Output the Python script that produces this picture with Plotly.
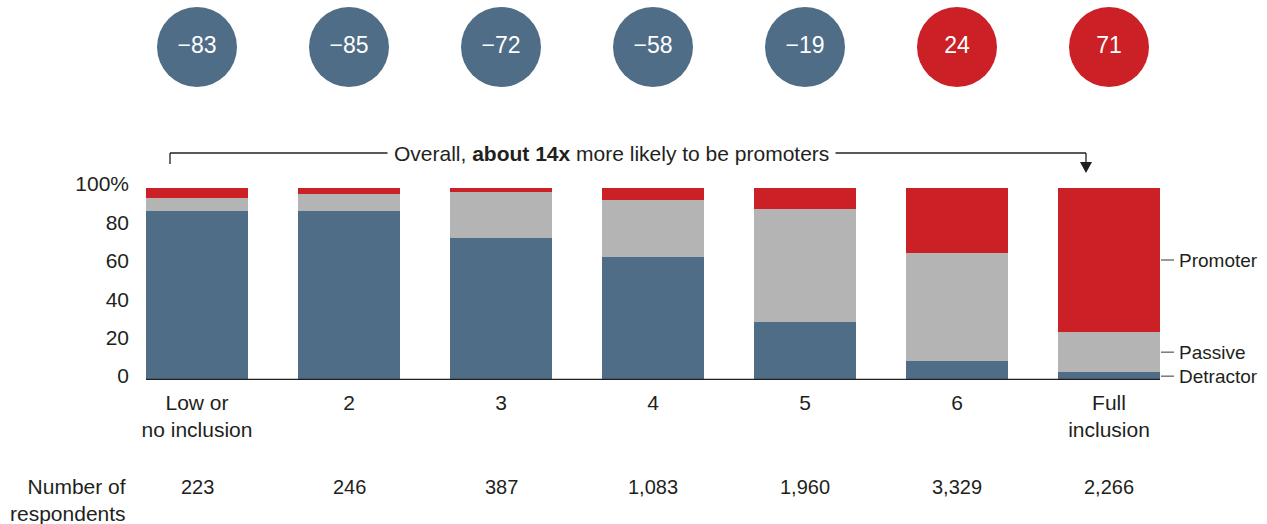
import plotly.graph_objects as go

# Inclusion level categories and stacked shares (% of respondents)
categories = ["Low or<br>no inclusion", "2", "3", "4", "5", "6", "Full<br>inclusion"]
detractor = [88, 88, 74, 64, 30, 10, 4]
passive = [7, 9, 24, 30, 59, 56, 21]
promoter = [5, 3, 2, 6, 11, 34, 75]
nps = [-83, -85, -72, -58, -19, 24, 71]
respondents = ["223", "246", "387", "1,083", "1,960", "3,329", "2,266"]
y_ticks = [0, 20, 40, 60, 80, 100]
y_tick_labels = ["0", "20", "40", "60", "80", "100%"]

W, H = 1267, 524
BLUE = "#4f6d86"
GREY = "#b4b4b4"
RED = "#cc2027"
INK = "#231f20"
FONT = "Liberation Sans, Arial, sans-serif"

def px(x):
    return x / W

def py(y):
    return 1 - y / H

x_idx = list(range(len(categories)))
pitch = 152.0
first_center = 197.0
bar_w = 102.0 / pitch
r0 = -first_center / pitch
r1 = r0 + W / pitch

fig = go.Figure()
for name, vals, col in [("Detractor", detractor, BLUE), ("Passive", passive, GREY), ("Promoter", promoter, RED)]:
    fig.add_trace(go.Bar(x=x_idx, y=vals, name=name, marker=dict(color=col, line=dict(width=0)),
                         width=bar_w, hoverinfo="skip"))

# NPS circles on their own strip above the bars
nps_text = [f"\u2212{abs(v)}" if v < 0 else f"{v}" for v in nps]
fig.add_trace(go.Scatter(
    x=x_idx, y=[0.5] * len(nps), yaxis="y2", mode="markers+text",
    marker=dict(size=80, color=[RED if v > 0 else BLUE for v in nps], line=dict(width=0)),
    text=nps_text, textposition="middle center",
    textfont=dict(color="white", size=23, family=FONT), hoverinfo="skip", cliponaxis=False))

shapes = []
annotations = []

# Baseline under the bars
shapes.append(dict(type="line", xref="x", yref="y", x0=-bar_w / 2, x1=len(categories) - 1 + bar_w / 2,
                   y0=0, y1=0, line=dict(color=INK, width=2.5), layer="above"))

# Bracket with arrow spanning the categories
by, lx, rx = 153, 170, 1086
line_style = dict(color=INK, width=1.3)
shapes.append(dict(type="line", xref="paper", yref="paper", x0=px(lx), x1=px(lx), y0=py(by), y1=py(164), line=line_style))
shapes.append(dict(type="line", xref="paper", yref="paper", x0=px(lx), x1=px(rx), y0=py(by), y1=py(by), line=line_style))
shapes.append(dict(type="line", xref="paper", yref="paper", x0=px(rx), x1=px(rx), y0=py(by), y1=py(163), line=line_style))
shapes.append(dict(type="path", xref="paper", yref="paper",
                   path=f"M {px(rx - 6)} {py(162)} L {px(rx + 6)} {py(162)} L {px(rx)} {py(173)} Z",
                   fillcolor=INK, line=dict(width=0)))
annotations.append(dict(x=px(611), y=py(by), xref="paper", yref="paper", showarrow=False,
                        xanchor="center", yanchor="middle",
                        text="Overall, <b>about 14x</b> more likely to be promoters",
                        bgcolor="white", borderpad=6,
                        font=dict(color=INK, size=21, family=FONT)))

# Segment labels on the right, aligned to the last bar's segments
last = len(categories) - 1
mids = [detractor[last] / 2,
        detractor[last] + passive[last] / 2,
        detractor[last] + passive[last] + promoter[last] / 2]
for name, m in zip(["Detractor", "Passive", "Promoter"], mids):
    shapes.append(dict(type="line", xref="x", yref="y", xsizemode="pixel", xanchor=last + bar_w / 2,
                       x0=1, x1=14, y0=m, y1=m, line=dict(color="#555555", width=1.2)))
    annotations.append(dict(x=last + bar_w / 2, y=m, xref="x", yref="y", xshift=17, text=name,
                            showarrow=False, xanchor="left", yanchor="middle",
                            font=dict(color=INK, size=19, family=FONT)))

# Respondent counts row
annotations.append(dict(x=px(128), y=py(500), xref="paper", yref="paper", xanchor="right", yanchor="middle",
                        text="Number of<br>respondents", align="right", showarrow=False,
                        font=dict(color=INK, size=21, family=FONT)))
for i, n in enumerate(respondents):
    annotations.append(dict(x=i, y=py(487), xref="x", yref="paper", text=n, showarrow=False,
                            xanchor="center", yanchor="middle",
                            font=dict(color=INK, size=20, family=FONT)))

fig.update_layout(
    width=W, height=H, margin=dict(l=0, r=0, t=0, b=0),
    barmode="stack", showlegend=False,
    plot_bgcolor="white", paper_bgcolor="white",
    font=dict(family=FONT, color=INK, size=21),
    shapes=shapes, annotations=annotations,
    xaxis=dict(domain=[0, 1], range=[r0, r1], tickvals=x_idx, ticktext=categories,
               showgrid=False, zeroline=False, showline=False, ticks="",
               tickfont=dict(size=21, color=INK), automargin=False, fixedrange=True,
               ticklabelstandoff=8),
    yaxis=dict(domain=[py(380), py(188)], range=[0, 100], tickvals=y_ticks, ticktext=y_tick_labels,
               anchor="free", position=px(129), showgrid=False, zeroline=False, showline=False,
               ticks="", tickfont=dict(size=21, color=INK), automargin=False, fixedrange=True,
               ticklabelshift=-4),
    yaxis2=dict(domain=[py(87), py(7)], range=[0, 1], visible=False, fixedrange=True),
)

fig.write_html("out.html")
